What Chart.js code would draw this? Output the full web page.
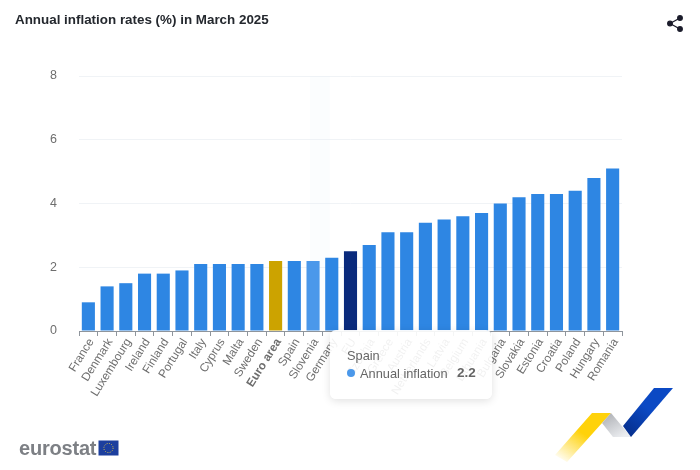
<!DOCTYPE html>
<html>
<head>
<meta charset="utf-8">
<title>Annual inflation rates</title>
<script src="https://cdn.jsdelivr.net/npm/chart.js@4"></script>
<style>
  html, body { margin: 0; background: #fff; }
  #wrap { position: relative; width: 700px; height: 470px; overflow: hidden; font-family: "Liberation Sans", sans-serif; }
  #chart { position: absolute; left: 0; top: 0; }
  #title { position: absolute; left: 15px; top: 12px; font-size: 13.4px; font-weight: bold; color: #24282e; white-space: nowrap; }
  #logo { position: absolute; left: 19px; top: 436px; font-size: 20px; font-weight: bold; color: #7d8085; letter-spacing: -0.2px; line-height: 24px; }
  svg.deco { position: absolute; left: 0; top: 0; pointer-events: none; }
  #tip { position: absolute; left: 330px; top: 330px; width: 162px; height: 69px; box-sizing: border-box; border-radius: 6px;
         background: rgba(255,255,255,0.9); box-shadow: 0 2px 8px rgba(0,0,0,0.12); color: #666; font-size: 12.8px; display: none; }
  #tip .name { position: absolute; left: 17px; top: 18px; }
  #tip .dot { position: absolute; left: 17px; top: 39px; width: 8px; height: 8px; border-radius: 50%; }
  #tip .lab { position: absolute; left: 30px; top: 36px; }
  #tip .val { position: absolute; left: 127px; top: 35px; font-weight: bold; font-size: 13.5px; }
</style>
</head>
<body>
<div id="wrap">
  <canvas id="chart" width="700" height="470"></canvas>
  <div id="title">Annual inflation rates (%) in March 2025</div>
  <div id="logo">eurostat</div>
  <svg class="deco" width="700" height="470" viewBox="0 0 700 470">
    <defs>
      <linearGradient id="goldFade" x1="0.9" y1="0" x2="0.1" y2="1">
        <stop offset="0.45" stop-color="#ffd20a"/><stop offset="1" stop-color="#ffd20a" stop-opacity="0"/>
      </linearGradient>
      <linearGradient id="greyFold" x1="0" y1="0" x2="0.7" y2="1">
        <stop offset="0" stop-color="#a9abb0"/><stop offset="1" stop-color="#eceef1"/>
      </linearGradient>
      <linearGradient id="blueFold" x1="1" y1="0" x2="0.2" y2="1">
        <stop offset="0.5" stop-color="#0b49c4"/><stop offset="1" stop-color="#06308f"/>
      </linearGradient>
    </defs>
    <!-- share icon -->
    <g fill="#1b1c2b" stroke="#1b1c2b" stroke-width="1.3">
      <line x1="670" y1="23.5" x2="680" y2="18"/><line x1="670" y1="23.5" x2="680" y2="29"/>
      <circle cx="680" cy="18" r="2.3"/><circle cx="670" cy="23.5" r="2.3"/><circle cx="680" cy="29" r="2.3"/>
    </g>
    <!-- EU flag -->
    <rect x="98.5" y="440.5" width="20" height="15" fill="#1c3f9e"/>
    <circle cx="108.5" cy="448" r="4.6" fill="none" stroke="#d8c14a" stroke-width="1" stroke-dasharray="1 1.4"/>
    <!-- ribbon -->
    <polygon points="592,413 611,413 602,423 567,462 555,455" fill="url(#goldFade)"/>
    <polygon points="611,413 602,423 613,437 631,437" fill="url(#greyFold)"/>
    <polygon points="654,388 673,388 631,437 623,426" fill="url(#blueFold)"/>
  </svg>
  <div id="tip"><span class="name"></span><span class="dot"></span><span class="lab"></span><span class="val"></span></div>
</div>
<script>
// ─── Data ────────────────────────────────────────────────────────────────────
const categories = ['France', 'Denmark', 'Luxembourg', 'Ireland', 'Finland', 'Portugal', 'Italy', 'Cyprus', 'Malta', 'Sweden',
  'Euro area', 'Spain', 'Slovenia', 'Germany', 'EU', 'Czechia', 'Greece', 'Austria', 'Netherlands', 'Latvia',
  'Belgium', 'Lithuania', 'Bulgaria', 'Slovakia', 'Estonia', 'Croatia', 'Poland', 'Hungary', 'Romania'];
const inflation = [0.9, 1.4, 1.5, 1.8, 1.8, 1.9, 2.1, 2.1, 2.1, 2.1,
  2.2, 2.2, 2.2, 2.3, 2.5, 2.7, 3.1, 3.1, 3.4, 3.5,
  3.6, 3.7, 4.0, 4.2, 4.3, 4.3, 4.4, 4.8, 5.1];
const seriesName = 'Annual inflation';
const tooltipCategory = 'Spain';
const hoverCategory = 'Slovenia';
const yMax = 8;
const yStep = 2;

// ─── Colours ─────────────────────────────────────────────────────────────────
const BAR = '#2e86e3', BAR_HOVER = '#4b98ea', BAR_EURO = '#cca300', BAR_EU = '#0a2a7c';
const barColors = categories.map(c =>
  c === 'Euro area' ? BAR_EURO : c === 'EU' ? BAR_EU : c === hoverCategory ? BAR_HOVER : BAR);

// ─── Faint hover band behind the bars ────────────────────────────────────────
Chart.register({
  id: 'hoverBand',
  beforeDatasetsDraw(chart) {
    const { ctx, chartArea, scales } = chart;
    const i = categories.indexOf(hoverCategory);
    const step = scales.x.getPixelForValue(1) - scales.x.getPixelForValue(0);
    ctx.save();
    ctx.fillStyle = 'rgba(225,238,250,0.14)';
    ctx.fillRect(scales.x.getPixelForValue(i) - 3, chartArea.top, step + 1, chartArea.height);
    ctx.restore();
  }
});

// ─── Tooltip as a html box, the canvas one has no soft shadow ────────────────
function renderTip({ tooltip }) {
  const el = document.getElementById('tip');
  if (!tooltip.dataPoints?.length) return;
  const p = tooltip.dataPoints[0];
  el.querySelector('.name').textContent = p.label;
  el.querySelector('.lab').textContent = p.dataset.label;
  el.querySelector('.val').textContent = p.raw.toFixed(1);
  el.querySelector('.dot').style.background = BAR_HOVER;
  el.style.display = 'block';
}

const chart = new Chart(document.getElementById('chart'), {
  type: 'bar',
  data: {
    labels: categories,
    datasets: [{ label: seriesName, data: inflation, backgroundColor: barColors, hoverBackgroundColor: barColors,
      barPercentage: 0.7, categoryPercentage: 1 }]
  },
  options: {
    responsive: false, animation: false, events: [],
    layout: { padding: { top: 76, right: 78, left: 0, bottom: 0 } },
    font: { family: '"Liberation Sans", sans-serif' },
    plugins: {
      legend: { display: false },
      tooltip: { enabled: false, external: renderTip }
    },
    scales: {
      x: {
        afterFit(s) { s.height = 139; },
        grid: { drawOnChartArea: false, color: '#8f959c', tickLength: 5 },
        border: { color: '#8f959c' },
        ticks: {
          autoSkip: false, minRotation: 58, maxRotation: 58, padding: 0, labelOffset: 3, color: '#6e6e6e',
          font: c => ({ family: '"Liberation Sans", sans-serif', size: 11.8,
            weight: categories[c.index] === 'Euro area' ? 'bold' : 'normal' })
        }
      },
      y: {
        min: 0, max: yMax,
        afterFit(s) { s.width = 79; },
        grid: { color: '#f0f3f6', drawTicks: false },
        border: { display: false },
        ticks: { stepSize: yStep, padding: 22, color: '#6e6e6e', font: { family: '"Liberation Sans", sans-serif', size: 12.5 } }
      }
    }
  }
});

chart.tooltip.setActiveElements([{ datasetIndex: 0, index: categories.indexOf(tooltipCategory) }], { x: 0, y: 0 });
chart.update();
</script>
</body>
</html>
